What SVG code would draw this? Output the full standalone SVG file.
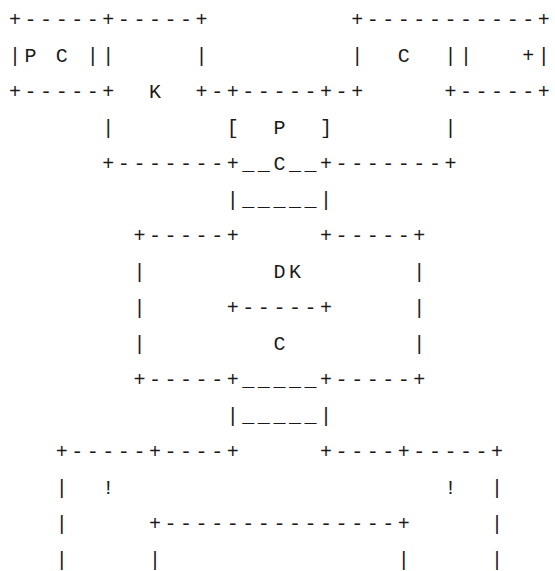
<svg xmlns="http://www.w3.org/2000/svg" width="555" height="571" viewBox="0 0 555 571">
<style>
text{font-family:"Liberation Mono","DejaVu Sans Mono",monospace;font-size:20px;letter-spacing:3.55px;fill:#1a1a1a;white-space:pre}
</style>
<rect width="555" height="571" fill="#fff"/>
<g id="ascii">
<text xml:space="preserve" x="9" y="26">+-----+-----+         +-----------+</text>
<text xml:space="preserve" x="9" y="62">|P C ||     |         |  C  ||   +|</text>
<text xml:space="preserve" x="9" y="98">+-----+  K  +-+-----+-+     +-----+</text>
<text xml:space="preserve" x="9" y="134">      |       [  P  ]       |</text>
<text xml:space="preserve" x="9" y="170">      +-------+__C__+-------+</text>
<text xml:space="preserve" x="9" y="206">              |_____|</text>
<text xml:space="preserve" x="9" y="242">        +-----+     +-----+</text>
<text xml:space="preserve" x="9" y="278">        |        DK       |</text>
<text xml:space="preserve" x="9" y="314">        |     +-----+     |</text>
<text xml:space="preserve" x="9" y="350">        |        C        |</text>
<text xml:space="preserve" x="9" y="386">        +-----+_____+-----+</text>
<text xml:space="preserve" x="9" y="422">              |_____|</text>
<text xml:space="preserve" x="9" y="458">   +-----+----+     +----+-----+</text>
<text xml:space="preserve" x="9" y="494">   |  !                     !  |</text>
<text xml:space="preserve" x="9" y="530">   |     +---------------+     |</text>
<text xml:space="preserve" x="9" y="566">   |     |               |     |</text>
</g>
</svg>
